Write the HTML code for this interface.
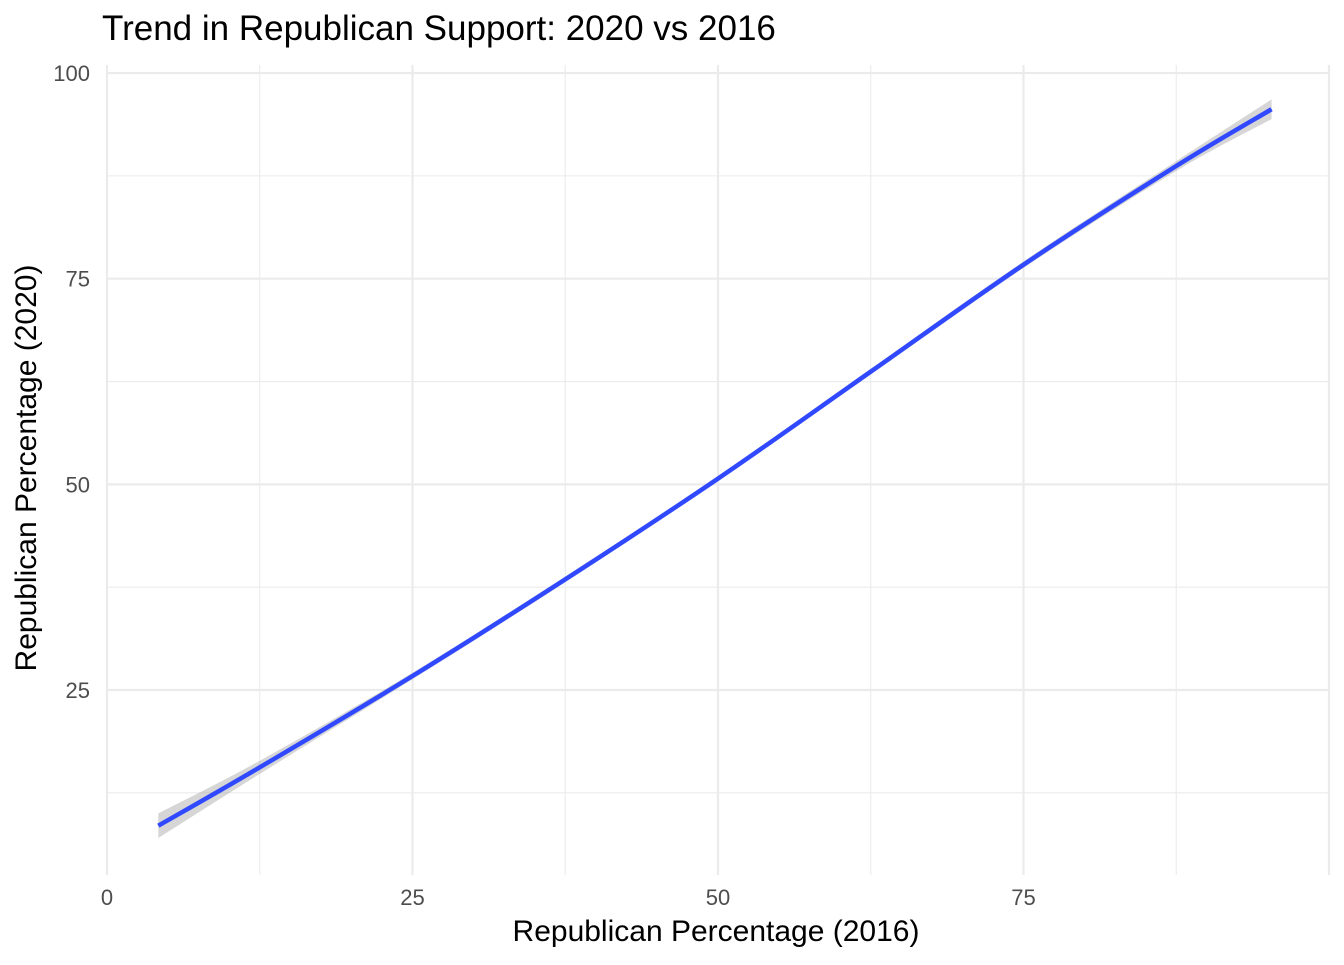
<!DOCTYPE html>
<html><head><meta charset="utf-8"><style>
body{margin:0;background:#fff;font-family:"Liberation Sans",Arial,sans-serif}
</style></head><body>
<svg width="1344" height="960" xmlns="http://www.w3.org/2000/svg">
<g id="grid"></g>
<g id="band-g"></g>
<g id="line-g"></g>
<g id="ticks"></g>
<text x="102" y="40" font-size="35" fill="#000">Trend in Republican Support: 2020 vs 2016</text>
<text x="716" y="941" font-size="30" text-anchor="middle" fill="#000">Republican Percentage (2016)</text>
<text transform="translate(36,468) rotate(-90)" font-size="30" text-anchor="middle" fill="#000">Republican Percentage (2020)</text>
</svg>
<script>
const xs=[4.2,12.5,25,37.5,50,62.5,75,87.5,95.3];
const ys=[8.5,15.6,26.7,38.45,50.7,63.7,76.7,88.7,95.6];
const se=[1.5,0.8,0.4,0.35,0.3,0.35,0.4,0.6,1.2];
const xTicks=[0,25,50,75];
const yTicks=[25,50,75,100];
const X=v=>107+v*12.22, Y=v=>690-(v-25)*8.226;
const ns="http://www.w3.org/2000/svg";
function mk(t,a,p){const e=document.createElementNS(ns,t);for(const k in a)e.setAttribute(k,a[k]);p.appendChild(e);return e;}
const g=document.getElementById('grid');
for(let v=0;v<=100;v+=12.5){const major=v%25===0;
const l=mk('line',{x1:X(v),x2:X(v),y1:65,y2:875,stroke:'#ebebeb','stroke-width':major?2.2:1.1},g);
}
for(let v=12.5;v<=100;v+=12.5){const major=v%25===0;
const l=mk('line',{x1:107,x2:1328,y1:Y(v),y2:Y(v),stroke:'#ebebeb','stroke-width':major?2.2:1.1},g);
}
const tk=document.getElementById('ticks');
xTicks.forEach(v=>{const t=mk('text',{x:X(v),y:905,'font-size':22,fill:'#4d4d4d','text-anchor':'middle'},tk);t.textContent=v;
});
yTicks.forEach(v=>{const t=mk('text',{x:90,y:Y(v)+8,'font-size':22,fill:'#4d4d4d','text-anchor':'end'},tk);t.textContent=v;
});
function path(pts){let d='M'+pts[0][0]+','+pts[0][1];for(let i=0;i<pts.length-1;i++){const p0=pts[i-1]||pts[i],p1=pts[i],p2=pts[i+1],p3=pts[i+2]||p2;
d+=' C'+(p1[0]+(p2[0]-p0[0])/6)+','+(p1[1]+(p2[1]-p0[1])/6)+' '+(p2[0]-(p3[0]-p1[0])/6)+','+(p2[1]-(p3[1]-p1[1])/6)+' '+p2[0]+','+p2[1];}return d;}
const up=xs.map((x,i)=>[X(x),Y(ys[i]+se[i])]), lo=xs.map((x,i)=>[X(x),Y(ys[i]-se[i])]).reverse();
const b=mk('path',{d:path(up)+' L'+lo[0][0]+','+lo[0][1]+path(lo).slice(path(lo).indexOf(' '))+' Z',fill:'#999','fill-opacity':0.4},document.getElementById('band-g'));

const ln=mk('path',{d:path(xs.map((x,i)=>[X(x),Y(ys[i])])),fill:'none',stroke:'#3049ff','stroke-width':4.5},document.getElementById('line-g'));

</script>
</body></html>
